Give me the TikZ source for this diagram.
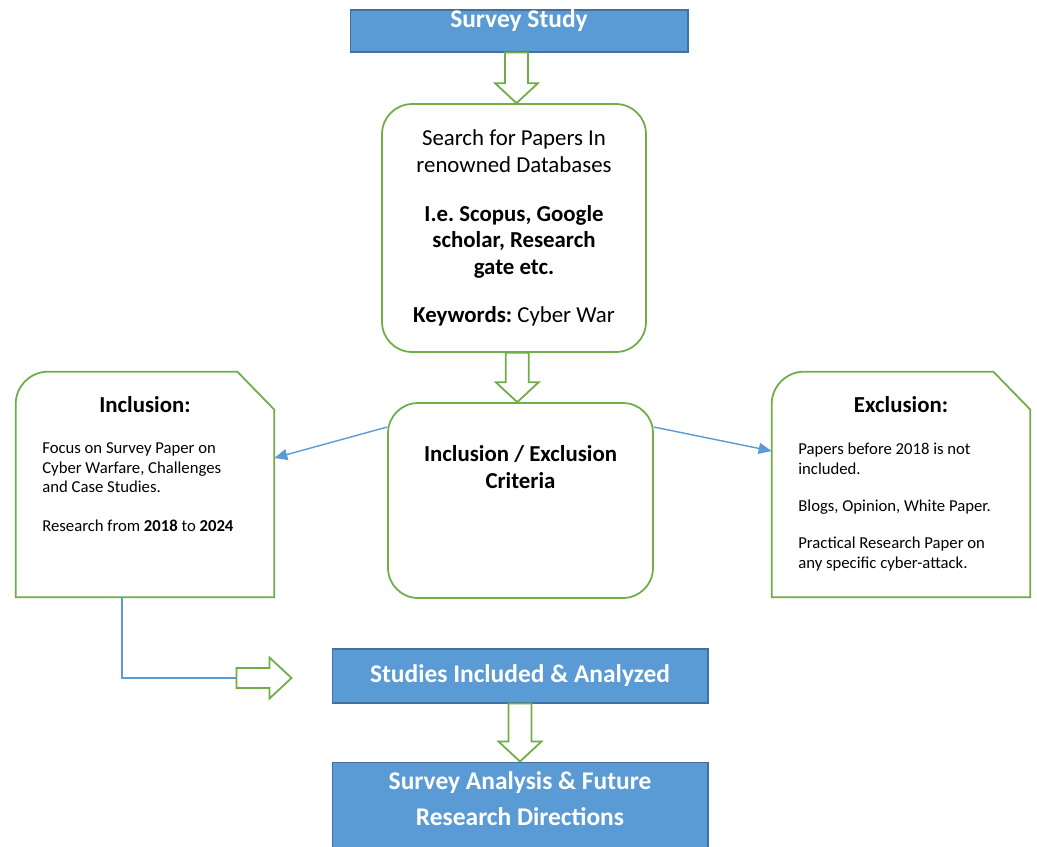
\documentclass[tikz,border=0pt]{standalone}
\usepackage{fontspec}
\setmainfont{Carlito}
\frenchspacing
\usetikzlibrary{arrows.meta,calc,positioning}
\definecolor{boxblue}{HTML}{5B9BD5}
\definecolor{boxedge}{HTML}{41719C}
\definecolor{leafgreen}{HTML}{70AD47}
\definecolor{linkblue}{HTML}{5B9BD5}

% hollow green arrow between two stacked boxes
\newcommand{\downblock}[2]{%
  \draw[blockarrow] let \p1=($(#1.south)!0.5!(#2.north)$), \p2=(#1.south), \p3=(#2.north) in
    (\x1-0.23cm,\y2) -- (\x1-0.23cm,\y3+0.4cm) -- (\x1-0.43cm,\y3+0.4cm) -- (\x1,\y3)
    -- (\x1+0.43cm,\y3+0.4cm) -- (\x1+0.23cm,\y3+0.4cm) -- (\x1+0.23cm,\y2) -- cycle;}
% note frame: round top left, snipped top right
\newcommand{\snipframe}[1]{%
  \draw[draw=leafgreen, line width=1pt] (#1.south east) -- (#1.south west)
    -- ([yshift=-0.65cm]#1.north west) arc[start angle=180, end angle=90, radius=0.65cm]
    -- ([xshift=-0.74cm]#1.north east) -- ([yshift=-0.76cm]#1.north east) -- cycle;}

\begin{document}
\begin{tikzpicture}[
    x=0.02cm, y=-0.02cm,
    bluebox/.style={draw=boxedge, fill=boxblue, line width=0.6pt, minimum width=7.52cm, inner sep=0pt},
    bluetext/.style={font=\fontsize{14.5}{20.5}\selectfont\bfseries, text=white, align=center, inner sep=0pt},
    roundbox/.style={draw=leafgreen, line width=1pt, rounded corners=0.6cm, inner sep=0pt},
    snipnode/.style={minimum width=5.16cm, minimum height=4.5cm, inner sep=0pt},
    headtext/.style={font=\fontsize{13}{15.3}\selectfont\bfseries, inner sep=0pt},
    bodytext/.style={font=\fontsize{9.5}{11.3}\selectfont, align=left, inner sep=0pt},
    linkarrow/.style={draw=linkblue, line width=0.8pt, -{Triangle[length=0.26cm, width=0.22cm]}},
    blockarrow/.style={draw=leafgreen, line width=1pt, fill=white}
]
\useasboundingbox (0,0) rectangle (1037,846);
\clip (0,0) rectangle (1037,846);
\fill[white] (0,0) rectangle (1037,846);
% Main column
\node[bluebox, minimum width=6.76cm, minimum height=0.84cm] (survey) at (519,31) {};
\node[bluetext, anchor=base] (surveytext) at (519,27) {Survey Study};
\node[roundbox, minimum width=5.28cm, minimum height=4.96cm, align=center,
      font=\fontsize{13}{15.3}\selectfont] (search) at (514,228)
    {Search for Papers In\\renowned Databases\\[12.5pt]\textbf{I.e. Scopus, Google}\\
     \textbf{scholar, Research}\\\textbf{gate etc.}\\[12pt]\textbf{Keywords:} Cyber War};
\node[roundbox, minimum width=5.3cm, minimum height=3.9cm] (crit) at (520.5,500.5) {};
\node[headtext, align=center, anchor=north] (crittext) at ([yshift=-0.86cm]crit.north)
    {Inclusion / Exclusion\\Criteria};
\node[bluebox, minimum height=1.08cm, bluetext] (studies) at (520,676) {Studies Included \& Analyzed};
\node[bluebox, minimum height=2cm] (analysis) at (520,812) {};
\node[bluetext, anchor=north] (analysistext) at ([yshift=-0.2cm]analysis.north)
    {Survey Analysis \& Future\\Research Directions};
% Side notes
\node[snipnode] (inc) at (145,484.5) {};
\snipframe{inc}
\node[headtext, anchor=base] (inchead) at (145,412) {Inclusion:};
\node[bodytext, anchor=north west] (incbody) at (42,442)
    {Focus on Survey Paper on\\Cyber Warfare, Challenges\\and Case Studies.\\[10.8pt]
     Research from \textbf{2018} to \textbf{2024}};
\node[snipnode] (exc) at (901,484.5) {};
\snipframe{exc}
\node[headtext, anchor=base] (exchead) at (901,412) {Exclusion:};
\node[bodytext, anchor=north west] (excbody) at (798,443)
    {Papers before 2018 is not\\included.\\[9.6pt]Blogs, Opinion, White Paper.\\[9.6pt]
     Practical Research Paper on\\any specific cyber-attack.};
% Flow arrows
\downblock{survey}{search}
\downblock{search}{crit}
\downblock{studies}{analysis}
\draw[linkarrow] ([yshift=1.47cm]crit.west) -- ([yshift=0.53cm]inc.east);
\draw[linkarrow] ([yshift=1.47cm]crit.east) -- ([yshift=0.67cm]exc.west);
% Inclusion feeds the analysed studies
\coordinate (tail) at ([xshift=-1.9cm,yshift=-0.04cm]studies.west);
\coordinate (tip) at ([xshift=-0.8cm,yshift=-0.04cm]studies.west);
\draw[draw=linkblue, line width=0.8pt] ([xshift=-0.46cm]inc.south) |- (tail);
\draw[blockarrow] let \p1=(tail), \p2=(tip) in
    (\x1,\y1+0.2cm) -- (\x2-0.44cm,\y1+0.2cm) -- (\x2-0.44cm,\y1+0.41cm) -- (\x2,\y1)
    -- (\x2-0.44cm,\y1-0.41cm) -- (\x2-0.44cm,\y1-0.2cm) -- (\x1,\y1-0.2cm) -- cycle;
\end{tikzpicture}
\end{document}
